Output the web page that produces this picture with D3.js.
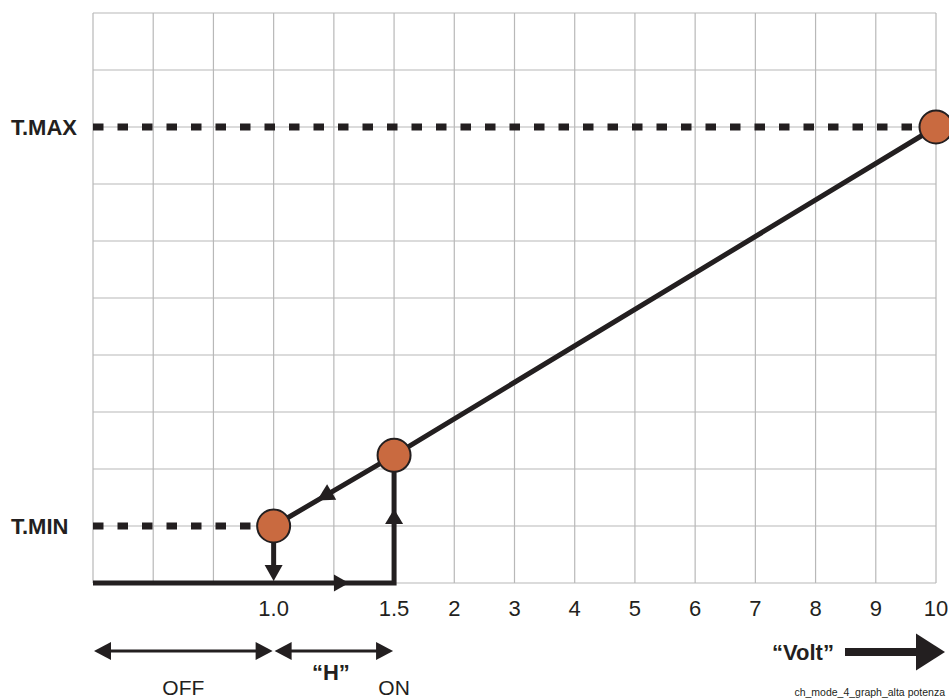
<!DOCTYPE html>
<html>
<head>
<meta charset="utf-8">
<script src="https://cdn.jsdelivr.net/npm/d3@7"></script>
<style>
  html, body { margin: 0; padding: 0; background: #fff; }
  svg { display: block; }
  text { font-family: "Liberation Sans", Arial, sans-serif; fill: #231f20; }
</style>
</head>
<body>
<svg id="chart" width="949" height="700"></svg>
<script>
// ---------------- DATA ----------------
const voltTicks = [1.0, 1.5, 2, 3, 4, 5, 6, 7, 8, 9, 10];
const voltTickLabels = ["1.0", "1.5", "2", "3", "4", "5", "6", "7", "8", "9", "10"];
const tempLabels = ["T.MIN", "T.MAX"];
const tempValues = [1, 8];
const curveVolt = [1.0, 1.5, 10];
const curveTemp = [1, 2.24, 8];
const offVolt = [0, 1.0];
const hystVolt = [1.0, 1.5];
const zoneLabels = ["OFF", "\u201cH\u201d", "ON"];
const axisTitle = "\u201cVolt\u201d";
const caption = "ch_mode_4_graph_alta potenza";

// ---------------- SCALES ----------------
const ink = "#231f20";
const dotFill = "#c96a40";
const gridCells = d3.range(0, 15);          // 14 columns
const gridRows = d3.range(0, 11);           // 10 rows
const cellX = d3.scaleLinear().domain([0, 14]).range([93, 936]);
const voltToCell = d3.scaleLinear().domain([0, 1, 1.5, 2, 10]).range([0, 3, 5, 6, 14]);
const x = v => cellX(voltToCell(v));
const y = d3.scaleLinear().domain([0, 10]).range([583, 13]);

const svg = d3.select("#chart");

// grid
const grid = svg.append("g").attr("stroke", "#b8b8b8").attr("stroke-width", 1.2);
grid.selectAll("line.v").data(gridCells).join("line")
  .attr("x1", d => cellX(d)).attr("x2", d => cellX(d))
  .attr("y1", y(10)).attr("y2", y(0));
grid.selectAll("line.h").data(gridRows).join("line")
  .attr("x1", cellX(0)).attr("x2", cellX(14))
  .attr("y1", d => y(d)).attr("y2", d => y(d));

const R = 16.5;

// dotted reference lines
svg.append("g").selectAll("line").data(tempValues).join("line")
  .attr("x1", x(0))
  .attr("x2", (d, i) => x(curveVolt[i === 0 ? 0 : 2]) - R)
  .attr("y1", d => y(d)).attr("y2", d => y(d))
  .attr("stroke", ink).attr("stroke-width", 7)
  .attr("stroke-dasharray", "10.5,14");

// temperature labels
svg.append("g").selectAll("text").data(tempLabels).join("text")
  .attr("x", 11).attr("y", (d, i) => y(tempValues[i]) + 8)
  .attr("font-size", 22).attr("font-weight", "bold")
  .text(d => d);

// triangle helper: tip at (tx,ty), direction angle (radians), length L, width W
function tri(g, tx, ty, ang, L, W) {
  const bx = tx - L * Math.cos(ang), by = ty - L * Math.sin(ang);
  const px = -Math.sin(ang) * W / 2, py = Math.cos(ang) * W / 2;
  g.append("path")
    .attr("d", `M${tx},${ty}L${bx + px},${by + py}L${bx - px},${by - py}Z`)
    .attr("fill", ink);
}

const path = svg.append("g");
// bottom path: OFF to ON
path.append("path")
  .attr("d", d3.line()([[x(0), y(0)], [x(1.5), y(0)], [x(1.5), y(curveTemp[1])]]))
  .attr("fill", "none").attr("stroke", ink).attr("stroke-width", 5)
  .attr("stroke-linejoin", "miter");

// curve
const curvePts = curveVolt.map((v, i) => [x(v), y(curveTemp[i])]);
path.append("path")
  .attr("d", d3.line()(curvePts))
  .attr("fill", "none").attr("stroke", ink).attr("stroke-width", 5);

// down arrow from T.MIN point to base
path.append("line")
  .attr("x1", x(1)).attr("x2", x(1))
  .attr("y1", y(curveTemp[0]) + R).attr("y2", y(0) - 14)
  .attr("stroke", ink).attr("stroke-width", 5);
tri(path, x(1), y(0) - 2, Math.PI / 2, 16, 18);

// arrow on bottom line (right)
{
  const t = 0.85;
  tri(path, x(0) + t * (x(1.5) - x(0)), y(0), 0, 15, 17);
}
// arrow on vertical line (up)
{
  const t = 0.58;
  tri(path, x(1.5), y(0) + t * (y(curveTemp[1]) - y(0)), -Math.PI / 2, 15, 18);
}
// arrow on diagonal (down-left)
{
  const [p1, p0] = [curvePts[1], curvePts[0]];
  const t = 0.64;
  const tx = p1[0] + t * (p0[0] - p1[0]), ty = p1[1] + t * (p0[1] - p1[1]);
  tri(path, tx, ty, Math.atan2(p0[1] - p1[1], p0[0] - p1[0]), 17, 18);
}

// points
svg.append("g").selectAll("circle").data(curveVolt).join("circle")
  .attr("cx", d => x(d)).attr("cy", (d, i) => y(curveTemp[i]))
  .attr("r", R).attr("fill", dotFill).attr("stroke", ink).attr("stroke-width", 2);

// x tick labels
svg.append("g").selectAll("text").data(voltTicks).join("text")
  .attr("x", d => x(d)).attr("y", 616)
  .attr("text-anchor", "middle").attr("font-size", 22)
  .text((d, i) => voltTickLabels[i]);

// zone double arrows
const zy = 651;
const zones = svg.append("g");
[offVolt, hystVolt].forEach(z => {
  const a = x(z[0]) + 1, b = x(z[1]) - 1;
  zones.append("line").attr("x1", a + 10).attr("x2", b - 10)
    .attr("y1", zy).attr("y2", zy).attr("stroke", ink).attr("stroke-width", 3);
  tri(zones, a, zy, Math.PI, 17, 18);
  tri(zones, b, zy, 0, 17, 18);
});

// zone labels
zones.append("text").attr("x", (x(0) + x(1)) / 2).attr("y", 695)
  .attr("text-anchor", "middle").attr("font-size", 21).text(zoneLabels[0]);
zones.append("text").attr("x", (x(1) + x(1.5)) / 2 - 3).attr("y", 680)
  .attr("text-anchor", "middle").attr("font-size", 22).attr("font-weight", "bold").text(zoneLabels[1]);
zones.append("text").attr("x", x(1.5)).attr("y", 695)
  .attr("text-anchor", "middle").attr("font-size", 21).text(zoneLabels[2]);

// Volt title + big arrow
svg.append("text").attr("x", 803).attr("y", 660)
  .attr("text-anchor", "middle").attr("font-size", 22).attr("font-weight", "bold")
  .text(axisTitle);
svg.append("line").attr("x1", 845).attr("x2", 919).attr("y1", 652).attr("y2", 652)
  .attr("stroke", ink).attr("stroke-width", 8);
tri(svg, x(10) + 9, 652, 0, 29, 37);

// caption
svg.append("text").attr("x", 945).attr("y", 696)
  .attr("text-anchor", "end").attr("font-size", 10.5).attr("fill", "#333")
  .text(caption);
</script>
</body>
</html>
